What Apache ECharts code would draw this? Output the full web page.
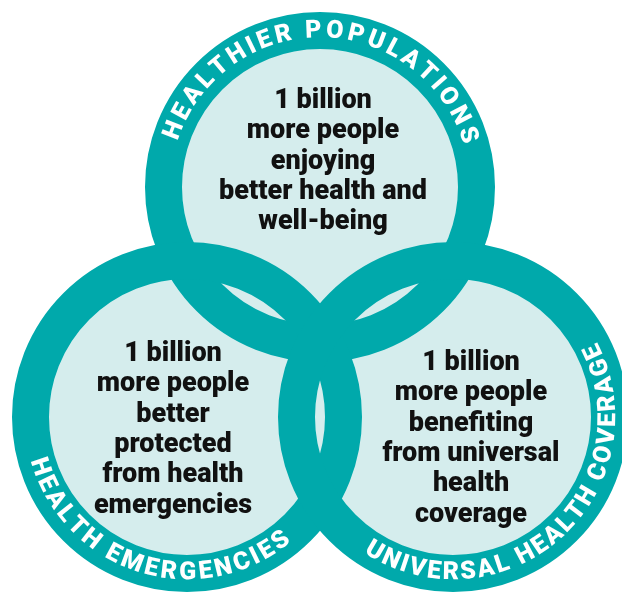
<!DOCTYPE html>
<html><head><meta charset="utf-8">
<script src="https://cdn.jsdelivr.net/npm/echarts@6/dist/echarts.min.js"></script>
<style>html,body{margin:0;padding:0;background:#fff}#c{width:622px;height:592px}</style>
</head><body><div id="c"></div>
<script>
// ---- data ----
const circleNames = ['HEALTHIER POPULATIONS', 'HEALTH EMERGENCIES', 'UNIVERSAL HEALTH COVERAGE'];
const goalHealthier = ['1 billion', 'more people', 'enjoying', 'better health and', 'well-being'];
const goalEmergencies = ['1 billion', 'more people', 'better', 'protected', 'from health', 'emergencies'];
const goalCoverage = ['1 billion', 'more people', 'benefiting', 'from universal', 'health', 'coverage'];
const goalLines = [goalHealthier, goalEmergencies, goalCoverage];

// ---- layout (pixel-space coordinates on hidden value axes) ----
const centers = [[320, 187], [187, 417], [453, 417]];
const ringR = 156.5, ringW = 37, textR = 156;
const textPos = [[323, 162], [173, 430], [471, 439]];
const arcSpan = [[-158.8, -19.4, 'out'], [161.3, 52.8, 'in'], [120.4, -25, 'in']];
const TEAL = '#00a9ab', FILL = '#d5eded', INK = '#111111';
const ARC_FONT = '900 25px Roboto';
const BODY_FONT = '900 27px Roboto';

const chart = echarts.init(document.getElementById('c'), null, {renderer: 'canvas'});
const mctx = document.createElement('canvas').getContext('2d');

function arcChildren(i, api) {
  const c = api.coord(centers[i]);
  const r = api.size([textR, 0])[0];
  const [a0, a1, dir] = arcSpan[i];
  const txt = circleNames[i];
  mctx.font = ARC_FONT;
  const ls = 2;
  const chars = txt.split('');
  let acc = 0; const pos = [];
  chars.forEach((ch, k) => {
    const w = mctx.measureText(ch).width;
    pos.push(acc + w / 2);
    acc += w + ls;
  });
  const s0 = pos[0], s1 = pos[pos.length - 1];
  const out = [];
  chars.forEach((ch, k) => {
    if (ch === ' ') return;
    const t = (pos[k] - s0) / (s1 - s0);
    const th = (a0 + (a1 - a0) * t) * Math.PI / 180;
    const rot = dir === 'out' ? -(th + Math.PI / 2) : -(th - Math.PI / 2);
    out.push({
      type: 'text',
      x: c[0] + r * Math.cos(th),
      y: c[1] + r * Math.sin(th),
      rotation: rot,
      style: {text: ch, fill: '#ffffff', font: ARC_FONT, align: 'center', verticalAlign: 'middle'}
    });
  });
  return out;
}

const circleData = centers.map((c, i) => [c[0], c[1], i]);

chart.setOption({
  animation: false,
  grid: {left: 0, right: 0, top: 0, bottom: 0},
  xAxis: {type: 'value', min: 0, max: 622, show: false},
  yAxis: {type: 'value', min: 0, max: 592, inverse: true, show: false},
  series: [
    {
      type: 'custom', name: 'fill', data: circleData, encode: {x: 0, y: 1}, z: 1,
      renderItem: (p, api) => {
        const c = api.coord([api.value(0), api.value(1)]);
        return {type: 'circle', shape: {cx: c[0], cy: c[1], r: api.size([ringR, 0])[0]}, style: {fill: FILL}};
      }
    },
    {
      type: 'custom', name: 'ring', data: circleData, encode: {x: 0, y: 1}, z: 2,
      renderItem: (p, api) => {
        const c = api.coord([api.value(0), api.value(1)]);
        return {type: 'circle', shape: {cx: c[0], cy: c[1], r: api.size([ringR, 0])[0]},
          style: {fill: 'none', stroke: TEAL, lineWidth: ringW}};
      }
    },
    {
      type: 'custom', name: 'goal', data: circleData, encode: {x: 0, y: 1}, z: 3,
      renderItem: (p, api) => {
        const i = api.value(2);
        const c = api.coord(textPos[i]);
        return {type: 'text', x: c[0], y: c[1],
          style: {text: goalLines[i].join('\n'), font: BODY_FONT, lineHeight: 30.3,
            align: 'center', verticalAlign: 'middle', fill: INK}};
      }
    },
    {
      type: 'custom', name: 'arc', data: circleData, encode: {x: 0, y: 1}, z: 4,
      renderItem: (p, api) => ({type: 'group', children: arcChildren(api.value(2), api)})
    }
  ]
});
</script></body></html>
